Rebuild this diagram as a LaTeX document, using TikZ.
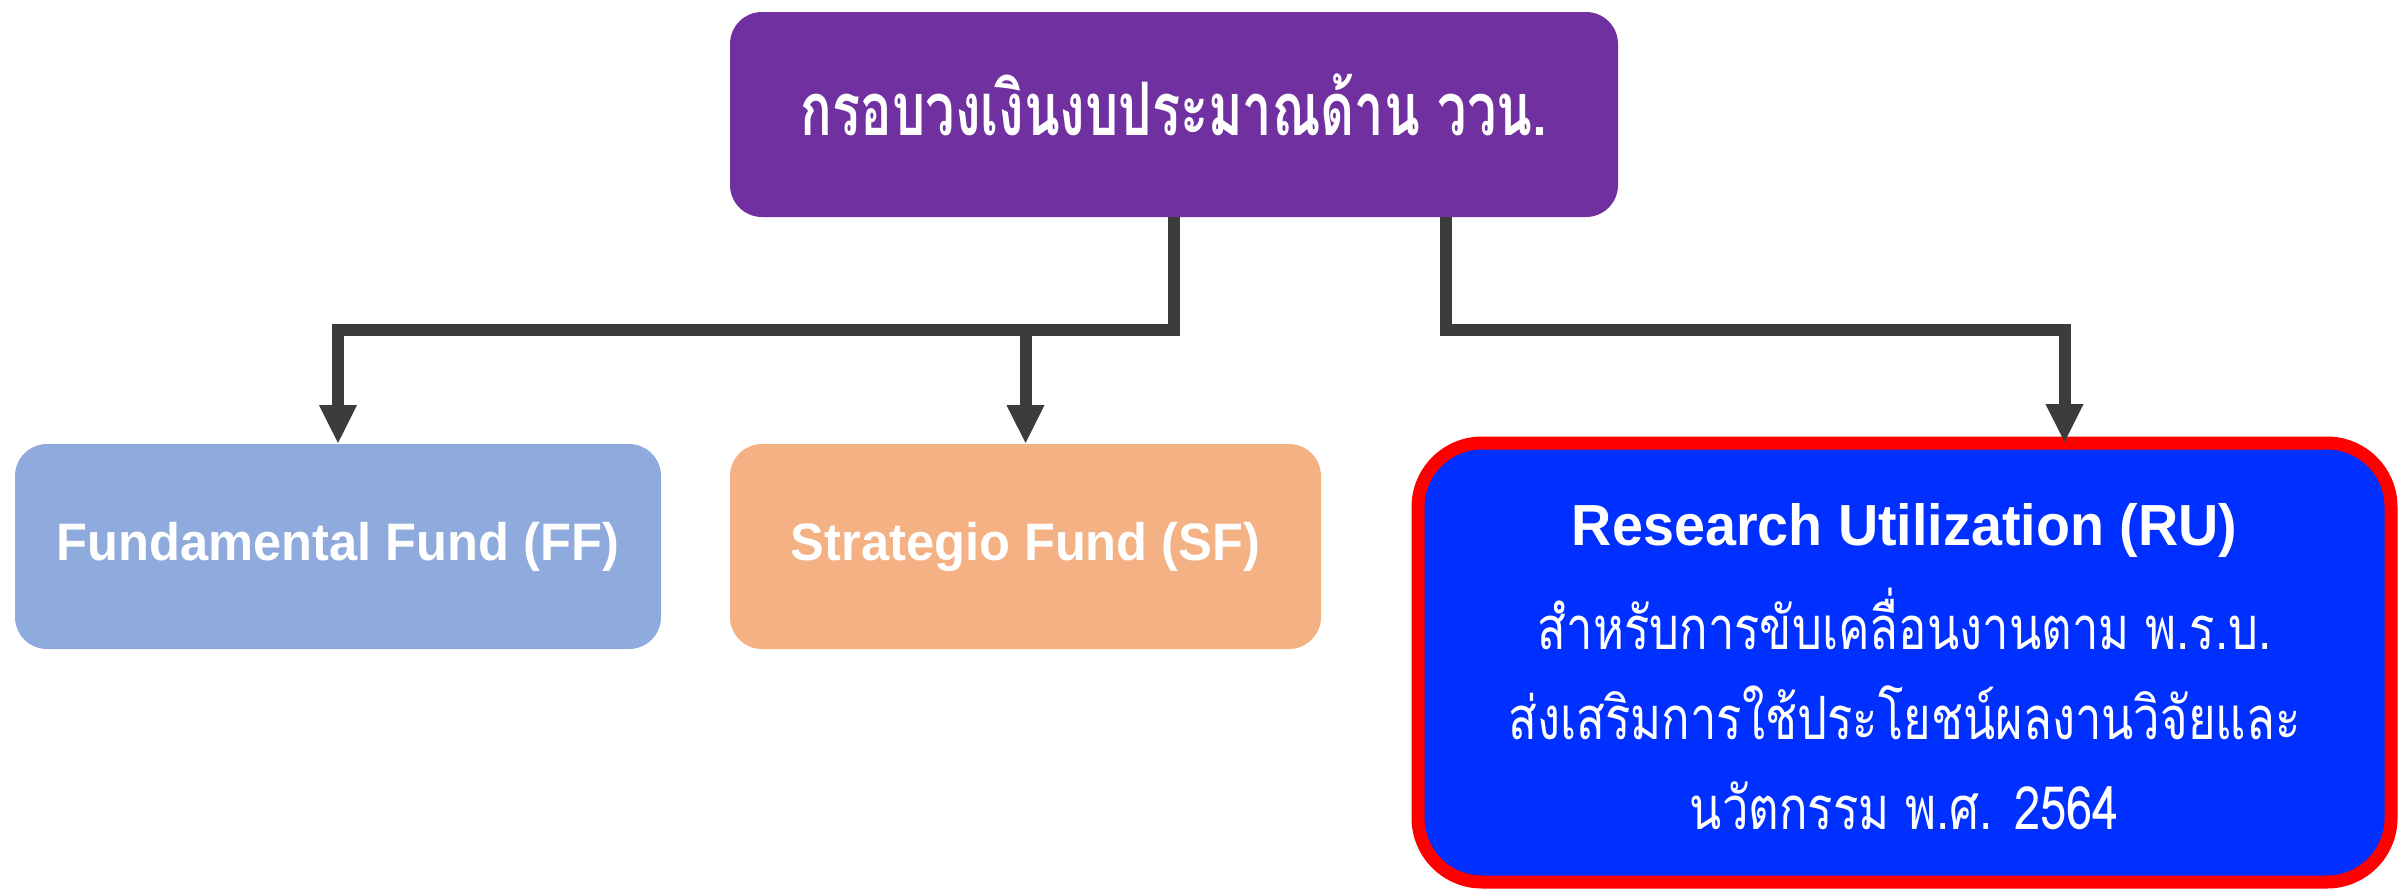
\documentclass[tikz,border=0pt]{standalone}
\usepackage{fontspec}
\setmainfont{Liberation Sans}[FakeStretch=0.96]
\newfontfamily\thaifont[Script=Thai, FakeStretch=0.79]{Loma}
\newfontfamily\thaiheadfont[Script=Thai, FakeStretch=0.71]{Loma}
\usepackage{tikz}
\usetikzlibrary{positioning,calc,arrows.meta}

\definecolor{budgetpurple}{HTML}{7030A0}
\definecolor{ffblue}{HTML}{8FAADC}
\definecolor{sforange}{HTML}{F4B183}
\definecolor{rublue}{HTML}{0030FF}
\definecolor{linkgray}{HTML}{3C3C3C}

\tikzset{
    fundbox/.style={rounded corners=0.32cm, minimum height=2.05cm, inner sep=0pt,
        outer sep=0pt, text=white, font=\fontsize{15}{18}\selectfont\bfseries, align=center},
    link/.style={draw=linkgray, line width=0.12cm,
        -{Triangle[length=0.39cm, width=0.35cm]}}
}

\begin{document}
\begin{tikzpicture}
    \useasboundingbox (0, 0) rectangle (24, -8.92);
    % top box
    \node [fundbox, fill=budgetpurple, minimum width=8.88cm] (budget) at (11.74, -1.145) {};
    \node [text=white, font=\thaiheadfont\fontsize{21}{24}\selectfont\bfseries] (budgettext)
        at ($(budget.center) + (0, 0.1)$) {กรอบวงเงินงบประมาณด้าน ววน.};
    % fund boxes
    \node [fundbox, fill=ffblue, minimum width=6.46cm] (ff) at (3.38, -5.465) {Fundamental Fund (FF)};
    \node [fundbox, fill=sforange, minimum width=5.91cm] (sf) at (10.255, -5.465) {Strategio Fund (SF)};
    \node [fundbox, fill=rublue, draw=red, line width=0.13cm, rounded corners=0.64cm,
        minimum width=9.73cm, minimum height=4.39cm] (ru) at (19.045, -6.625) {};
    \node [font=\fontsize{16.5}{20}\selectfont\bfseries, text=white] (rutitle) at (19.045, -5.3)
        {Research Utilization (RU)};
    \node [font=\thaifont\fontsize{17}{20}\selectfont, text=white, align=center] (rutext) at (19.045, -7.09)
        {สำหรับการขับเคลื่อนงานตาม พ.ร.บ.\\[0.2cm]
         ส่งเสริมการใช้ประโยชน์ผลงานวิจัยและ\\[0.2cm]
         นวัตกรรม พ.ศ. 2564};
    % connectors
    \coordinate (bar) at (0, -3.30);
    \draw [link] (budget.south) |- (bar -| ff.north) -- (ff.north);
    \draw [link] (bar -| sf.north) -- (sf.north);
    \coordinate (rustart) at ($(budget.south east) + (-1.72, 0)$);
    \coordinate (ruend) at ($(ru.north) + (1.6, 0)$);
    \draw [link] (rustart) |- (bar -| ruend) -- (ruend);
\end{tikzpicture}
\end{document}
